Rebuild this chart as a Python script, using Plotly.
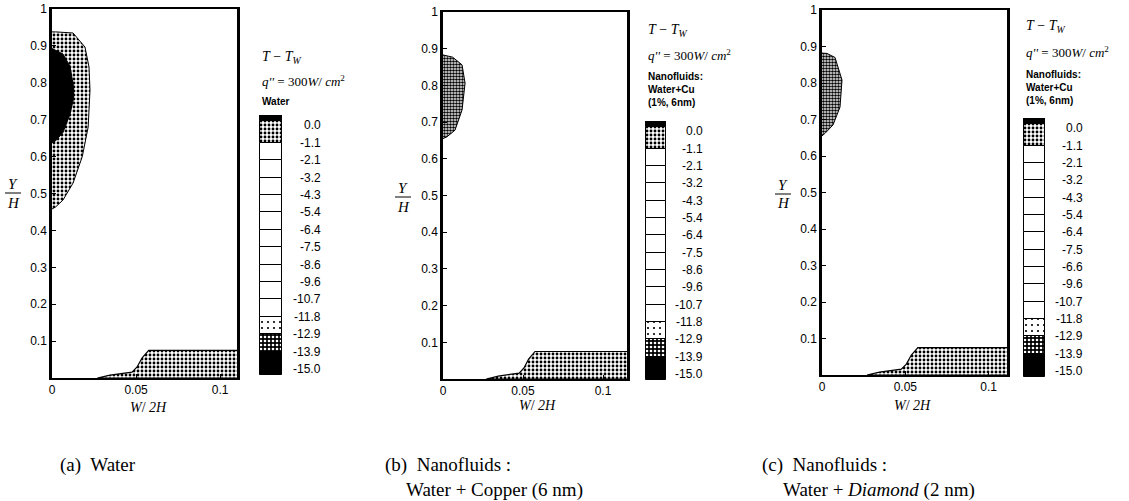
import plotly.graph_objects as go

W, H = 1129, 501

# ---------------- data ----------------
levels = ["0.0", "-1.1", "-2.1", "-3.2", "-4.3", "-5.4", "-6.4", "-7.5",
          "-8.6", "-9.6", "-10.7", "-11.8", "-12.9", "-13.9", "-15.0"]
levels_c = ["0.0", "-1.1", "-2.1", "-3.2", "-4.3", "-5.4", "-6.4", "-7.5",
            "-6.6", "-9.6", "-10.7", "-11.8", "-12.9", "-13.9", "-15.0"]

# colour band edges of the legend strip (in label-index units) and their fill kind
band_edges = [-0.6, -0.25, 1, 2, 3, 4, 5, 6, 7, 8, 9, 10, 11, 12, 13, 14.35]
band_kind = ["black", "stipple", "white", "white", "white", "white", "white",
             "white", "white", "white", "white", "white", "light", "dark", "black"]

# (a) Water: stippled shell and black core near the top-left wall
shell_a_x = [0, 0.002, 0.0125, 0.0196, 0.022, 0.0226, 0.0215, 0.018, 0.0125, 0.0065, 0.002, 0]
shell_a_y = [0.938, 0.938, 0.935, 0.897, 0.843, 0.78, 0.68, 0.60, 0.528, 0.482, 0.463, 0.458]
core_a_x = [0, 0.0065, 0.0107, 0.0128, 0.0127, 0.0107, 0.0065, 0.002, 0]
core_a_y = [0.893, 0.878, 0.845, 0.79, 0.755, 0.715, 0.665, 0.642, 0.638]

# (b) Water + Cu
shell_b_x = [0, 0.006, 0.0119, 0.0138, 0.0119, 0.0075, 0.0025, 0]
shell_b_y = [0.883, 0.877, 0.856, 0.806, 0.733, 0.678, 0.66, 0.655]

# (c) Water + Diamond
shell_c_x = [0, 0.003, 0.0078, 0.012, 0.0108, 0.0066, 0.002, 0]
shell_c_y = [0.882, 0.881, 0.87, 0.808, 0.734, 0.685, 0.663, 0.655]

# bottom heated-wall region (same in all panels)
bottom_x = [0.027, 0.0345, 0.0476, 0.0506, 0.0535, 0.0575, 0.12, 0.12, 0.027]
bottom_y = [0.0, 0.008, 0.016, 0.03, 0.054, 0.075, 0.075, 0.0, 0.0]

x_ticks = [0, 0.05, 0.1]
x_ticklabels = ["0", "0.05", "0.1"]
y_ticks = [0.1, 0.2, 0.3, 0.4, 0.5, 0.6, 0.7, 0.8, 0.9, 1.0]
y_ticklabels = ["0.1", "0.2", "0.3", "0.4", "0.5", "0.6", "0.7", "0.8", "0.9", "1"]

legend_notes = ["<b>Water</b>",
                "<b>Nanofluids:<br>Water+Cu<br>(1%, 6nm)</b>",
                "<b>Nanofluids:<br>Water+Cu<br>(1%, 6nm)</b>"]
captions = [["(a)  Water"],
            ["(b)  Nanofluids :", "Water + Copper (6 nm)"],
            ["(c)  Nanofluids :", "Water + <i>Diamond</i> (2 nm)"]]

# ---------------- layout geometry (pixels in the window) ----------------
panels = [
    dict(ax=(52, 237), ay=(9, 378), xr=0.110, cb=(260, 282), cby=(115, 375),
         lab_r=323, txt=(57, 81, 101), ytit=(13, 184, 193, 203), xtit=(148, 407),
         shells=[(shell_a_x, shell_a_y, "stipple"), (core_a_x, core_a_y, "black")],
         levels=levels),
    dict(ax=(443, 627), ay=(12, 379), xr=0.115, cb=(646, 666), cby=(121, 380),
         lab_r=705, txt=(30, 55, 90), ytit=(403, 188, 197, 207), xtit=(537, 405),
         shells=[(shell_b_x, shell_b_y, "dense")], levels=levels),
    dict(ax=(822, 1007), ay=(10, 375), xr=0.111, cb=(1024, 1045), cby=(118, 377),
         lab_r=1085, txt=(27, 52, 88), ytit=(783, 185, 194, 203), xtit=(912, 405),
         shells=[(shell_c_x, shell_c_y, "dense")], levels=levels_c),
]

def px(x):
    return x / W

def py(y):
    return 1 - y / H

fig = go.Figure()
layout = dict(width=W, height=H, margin=dict(l=0, r=0, t=0, b=0, autoexpand=False),
              paper_bgcolor="white", plot_bgcolor="white", showlegend=False,
              bargap=0, barmode="overlay", template="none")
annotations = []
shapes = []

patterns = {
    "stipple": dict(shape=".", fgcolor="black", bgcolor="white", size=4, solidity=0.4),
    "dense": dict(shape=".", fgcolor="black", bgcolor="white", size=3, solidity=0.6),
    "light": dict(shape=".", fgcolor="black", bgcolor="white", size=6, solidity=0.1),
    "dark": dict(shape=".", fgcolor="white", bgcolor="black", size=4, solidity=0.35),
}

tick_font = dict(family="Liberation Sans, Arial", size=12, color="black")
serif = "Liberation Serif, Times New Roman"

for i, p in enumerate(panels):
    n = i + 1
    xa = "x" if n == 1 else f"x{n}"
    ya = "y" if n == 1 else f"y{n}"
    cxa, cya = f"x{n+3}", f"y{n+3}"

    # ---- contour regions ----
    fig.add_trace(go.Scatter(x=bottom_x, y=bottom_y, fill="toself", mode="lines",
                             line=dict(color="black", width=1.2),
                             fillcolor="white", fillpattern=patterns["stipple"],
                             xaxis=xa, yaxis=ya, hoverinfo="skip"))
    for sx, sy, kind in p["shells"]:
        if kind == "black":
            fig.add_trace(go.Scatter(x=sx, y=sy, fill="toself", mode="lines",
                                     line=dict(color="black", width=1),
                                     fillcolor="black", xaxis=xa, yaxis=ya, hoverinfo="skip"))
        else:
            fig.add_trace(go.Scatter(x=sx, y=sy, fill="toself", mode="lines",
                                     line=dict(color="black", width=1),
                                     fillcolor="white", fillpattern=patterns[kind],
                                     xaxis=xa, yaxis=ya, hoverinfo="skip"))

    layout["xaxis" if n == 1 else f"xaxis{n}"] = dict(
        domain=[px(p["ax"][0]), px(p["ax"][1])], range=[0, p["xr"]], anchor=ya,
        tickvals=x_ticks, ticktext=x_ticklabels, ticks="inside", ticklen=4,
        tickcolor="black", showgrid=False, zeroline=False, showline=True,
        linecolor="black", linewidth=2, mirror=True, tickfont=tick_font, automargin=False)
    layout["yaxis" if n == 1 else f"yaxis{n}"] = dict(
        domain=[py(p["ay"][1]), py(p["ay"][0])], range=[0, 1], anchor=xa,
        tickvals=y_ticks, ticktext=y_ticklabels, ticks="inside", ticklen=4,
        tickcolor="black", showgrid=False, zeroline=False, showline=True,
        linecolor="black", linewidth=2.5, mirror=True, tickfont=tick_font, automargin=False)

    # ---- legend strip ----
    for kind in ["black", "stipple", "white", "light", "dark"]:
        bases = [band_edges[k] for k in range(len(band_kind)) if band_kind[k] == kind]
        heights = [band_edges[k + 1] - band_edges[k] for k in range(len(band_kind)) if band_kind[k] == kind]
        marker = dict(line=dict(color="black", width=1))
        if kind == "black":
            marker["color"] = "black"
        elif kind == "white":
            marker["color"] = "white"
        else:
            marker["color"] = "white"
            marker["pattern"] = dict(fillmode="replace", **patterns[kind])
        fig.add_trace(go.Bar(x=[0] * len(bases), y=heights, base=bases, width=1,
                             marker=marker, xaxis=cxa, yaxis=cya, hoverinfo="skip"))
    layout[f"xaxis{n+3}"] = dict(domain=[px(p["cb"][0] - 1), px(p["cb"][1] + 1)], range=[-0.55, 0.55],
                                 anchor=cya, visible=False, fixedrange=True, automargin=False)
    layout[f"yaxis{n+3}"] = dict(domain=[py(p["cby"][1]), py(p["cby"][0])],
                                 range=[band_edges[-1], band_edges[0]], anchor=cxa,
                                 visible=False, fixedrange=True, automargin=False)
    for k, lab in enumerate(p["levels"]):
        annotations.append(dict(x=px(p["lab_r"]), xref="paper", y=k, yref=cya,
                                text=lab, showarrow=False, xanchor="right", yanchor="middle",
                                font=tick_font))

    # ---- legend header texts ----
    x0 = px(p["cb"][0])
    annotations.append(dict(x=x0, y=py(p["txt"][0]), xref="paper", yref="paper",
                            text="<i>T</i> − <i>T<sub>W</sub></i>", showarrow=False,
                            xanchor="left", yanchor="middle",
                            font=dict(family=serif, size=14, color="black")))
    annotations.append(dict(x=x0, y=py(p["txt"][1]), xref="paper", yref="paper",
                            text="<i>q''</i> = 300<i>W</i>/ <i>cm</i><sup>2</sup>", showarrow=False,
                            xanchor="left", yanchor="middle",
                            font=dict(family=serif, size=13, color="black")))
    annotations.append(dict(x=x0, y=py(p["txt"][2]), xref="paper", yref="paper",
                            text=legend_notes[i], showarrow=False, align="left",
                            xanchor="left", yanchor="middle",
                            font=dict(family="Liberation Sans, Arial", size=10, color="black")))

    # ---- axis titles ----
    yx, yY, yL, yH = p["ytit"]
    annotations.append(dict(x=px(yx), y=py(yY), xref="paper", yref="paper", text="<i>Y</i>",
                            showarrow=False, xanchor="center", yanchor="middle",
                            font=dict(family=serif, size=15, color="black")))
    annotations.append(dict(x=px(yx), y=py(yH), xref="paper", yref="paper", text="<i>H</i>",
                            showarrow=False, xanchor="center", yanchor="middle",
                            font=dict(family=serif, size=15, color="black")))
    shapes.append(dict(type="line", xref="paper", yref="paper", x0=px(yx - 8), x1=px(yx + 8),
                       y0=py(yL), y1=py(yL), line=dict(color="black", width=1)))
    annotations.append(dict(x=px(p["xtit"][0]), y=py(p["xtit"][1]), xref="paper", yref="paper",
                            text="<i>W</i>/ <i>2H</i>", showarrow=False, xanchor="center",
                            yanchor="middle", font=dict(family=serif, size=14, color="black")))

# ---- captions ----
cap_pos = [(58, 383, 760), (465, 490)]
for i, lines in enumerate(captions):
    xl = cap_pos[0][i]
    for j, line in enumerate(lines):
        annotations.append(dict(x=px(xl + (21 if j == 1 else 0)), y=py(cap_pos[1][j]),
                                xref="paper", yref="paper", text=line, showarrow=False,
                                xanchor="left", yanchor="middle",
                                font=dict(family=serif, size=19, color="black")))

layout["annotations"] = annotations
layout["shapes"] = shapes
fig.update_layout(**layout)
fig.write_html("out.html", config={"displayModeBar": False},
               post_script="document.body.style.margin='0';document.body.style.overflow='hidden';")
